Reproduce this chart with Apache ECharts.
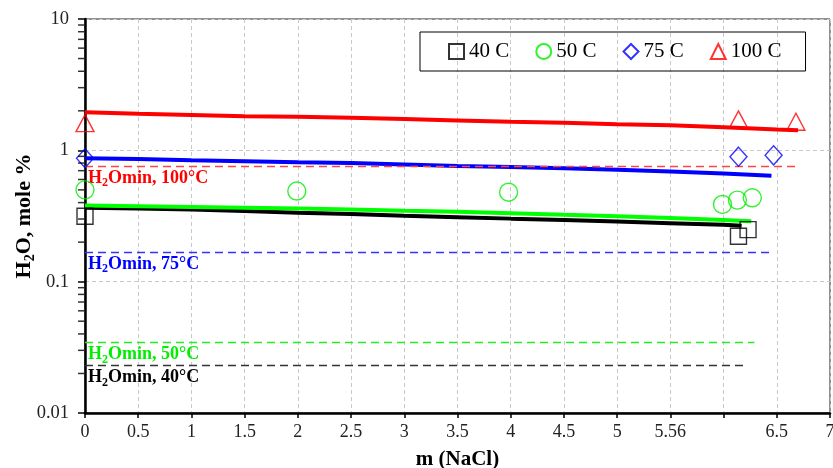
<!DOCTYPE html>
<html><head><meta charset="utf-8">
<script src="https://cdn.jsdelivr.net/npm/echarts@6/dist/echarts.min.js"></script>
<style>html,body{margin:0;padding:0;background:#fff}#c{width:833px;height:468px}</style>
</head><body><div id="c"></div>
<script>
// ---- data ----
const xTickLabels = ['0','0.5','1','1.5','2','2.5','3','3.5','4','4.5','5','5.56','','6.5','7'];
const yTickLabels = {0.01:'0.01', 0.1:'0.1', 1:'1', 10:'10'};
const legendNames = ['40 C','50 C','75 C','100 C'];

const exp40 = [[0,0.315],[6.14,0.222],[6.23,0.249]];
const exp50 = [[0,0.50],[1.99,0.49],[3.98,0.48],[5.99,0.387],[6.13,0.418],[6.27,0.435]];
const exp75 = [[0,0.87],[6.14,0.895],[6.47,0.916]];
const exp100 = [[0,1.61],[6.14,1.72],[6.68,1.65]];

const model40 = [[0,0.365],[0.5,0.36],[1,0.355],[1.5,0.345],[2,0.335],[2.5,0.327],[3,0.318],[3.5,0.31],[4,0.302],[4.5,0.295],[5,0.287],[5.5,0.279],[6,0.271],[6.17,0.267]];
const model50 = [[0,0.38],[0.5,0.375],[1,0.37],[1.5,0.365],[2,0.36],[2.5,0.355],[3,0.347],[3.5,0.34],[4,0.332],[4.5,0.323],[5,0.315],[5.5,0.305],[6,0.295],[6.26,0.288]];
const model75 = [[0,0.87],[0.5,0.86],[1,0.84],[1.5,0.825],[2,0.81],[2.5,0.80],[3,0.78],[3.5,0.76],[4,0.745],[4.5,0.73],[5,0.71],[5.5,0.69],[6,0.665],[6.45,0.64]];
const model100 = [[0,1.95],[0.5,1.9],[1,1.86],[1.5,1.82],[2,1.80],[2.5,1.77],[3,1.73],[3.5,1.69],[4,1.65],[4.5,1.62],[5,1.58],[5.5,1.55],[6,1.50],[6.5,1.44],[6.7,1.42]];

const minLevels = [0.023, 0.0344, 0.1675, 0.76];   // 40, 50, 75, 100 C
const minEnds   = [6.2, 6.29, 6.47, 6.68];
const minTexts  = ['40°C','50°C','75°C','100°C'];

// ---- decoration: log minor tick values ----
const minorTickVals = [];
[0.01,0.1,1].forEach(d => { for (let k=2;k<=9;k++) minorTickVals.push(+(d*k).toPrecision(3)); });

const serif = 'Liberation Serif';
const colors = ['#000000','#00ee00','#0000ff','#ff0000'];
const lineColors = ['#000000','#00ff00','#0000ff','#ff0000'];
const dashColors = ['#333333','#22ee22','#3333ff','#ff4444'];
const symbols = ['rect','circle','diamond','triangle'];
const symSizes = [16,18,[17,19],[18,17]];
const exps = [exp40, exp50, exp75, exp100];
const models = [model40, model50, model75, model100];

const series = [];
models.forEach((m,i) => {
  series.push({type:'line', name:'model'+i, data:m, showSymbol:false, symbol:'none',
    lineStyle:{color:lineColors[i], width:4}, z:3, silent:true});
});
minLevels.forEach((v,i) => {
  series.push({type:'line', name:'min'+i, data:[], silent:true,
    markLine:{symbol:'none', silent:true, animation:false,
      lineStyle:{color:dashColors[i], type:[8,5], width:1.3},
      label:{show:true, position:'insideStartBottom', distance:[3,3],
        formatter:'{n|H}{s|2}{n|Omin, '+minTexts[i]+'}',
        rich:{n:{fontFamily:serif,fontWeight:'bold',fontSize:18,color:colors[i],lineHeight:20,verticalAlign:'top'},
              s:{fontFamily:serif,fontWeight:'bold',fontSize:12,color:colors[i],lineHeight:20,verticalAlign:'bottom'}}},
      data:[[{coord:[0,v]},{coord:[minEnds[i],v]}]]}});
});
exps.forEach((d,i) => {
  series.push({type:'scatter', name:legendNames[i], data:d, symbol:symbols[i], symbolSize:symSizes[i],
    itemStyle:{color:'rgba(255,255,255,0)', borderColor:colors[i], borderWidth:1.4}, z:5, clip:false});
});
series.push({type:'scatter', name:'minorTicks', data:minorTickVals.map(v=>[0,v]), symbol:'rect',
  symbolSize:[6,1.5], symbolOffset:[-4,0], itemStyle:{color:'#000'}, silent:true, clip:false, z:6});

const chart = echarts.init(document.getElementById('c'));
chart.setOption({
  animation:false,
  grid:{left:85, right:3, top:19, bottom:55, containLabel:false, outerBoundsMode:'none',
    show:true, borderColor:'#222', borderWidth:1, backgroundColor:'rgba(0,0,0,0)'},
  legend:{data:legendNames, left:420, top:32, orient:'horizontal',
    borderColor:'#000', borderWidth:1, padding:[9,24,9,28], itemGap:26,
    itemWidth:15, itemHeight:15, textStyle:{fontFamily:serif, fontSize:21, color:'#000'}},
  xAxis:{type:'value', min:0, max:7, interval:0.5,
    name:'m (NaCl)', nameLocation:'middle', nameGap:36, nameMoveOverlap:false,
    nameTextStyle:{fontFamily:serif, fontWeight:'bold', fontSize:21, color:'#000'},
    axisLine:{lineStyle:{color:'#000', width:2.5}},
    axisTick:{show:true, length:5, lineStyle:{color:'#000', width:1.5}},
    axisLabel:{fontFamily:serif, fontSize:18, color:'#222', margin:10,
      formatter:v=>xTickLabels[Math.round(v/0.5)]},
    splitLine:{show:true, lineStyle:{color:'#c8c8c8', type:[4,3], width:1}}},
  yAxis:{type:'log', min:0.01, max:10, logBase:10,
    name:'{n|H}{s|2}{n|O, mole %}', nameLocation:'middle', nameGap:48, nameRotate:90, nameMoveOverlap:false,
    nameTextStyle:{rich:{n:{fontFamily:serif,fontWeight:'bold',fontSize:22,color:'#000',lineHeight:24,verticalAlign:'top'},
                         s:{fontFamily:serif,fontWeight:'bold',fontSize:14,color:'#000',lineHeight:24,verticalAlign:'bottom'}}},
    axisLine:{show:true, lineStyle:{color:'#000', width:2.5}},
    axisTick:{show:true, length:7, lineStyle:{color:'#000', width:1.5}},
    axisLabel:{fontFamily:serif, fontSize:18.5, color:'#222', margin:16,
      formatter:v=>yTickLabels[+v.toPrecision(3)] ?? ''},
    splitLine:{show:true, lineStyle:{color:'#c8c8c8', type:[4,3], width:1}}},
  series
});
</script></body></html>
